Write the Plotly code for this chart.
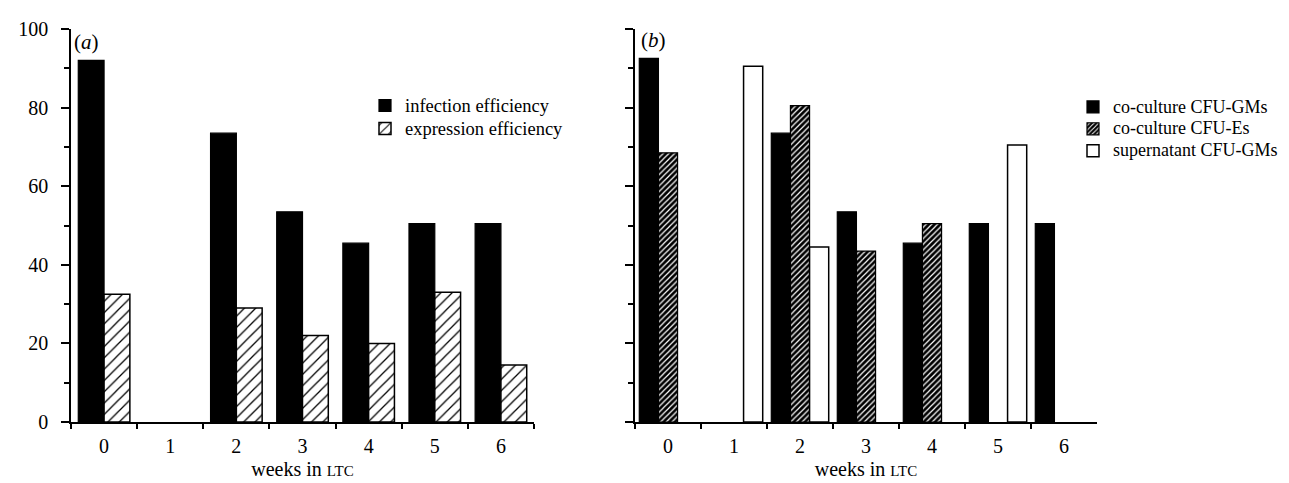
import plotly.graph_objects as go

# ---- data ----
weeks = ["0", "1", "2", "3", "4", "5", "6"]
infection_eff = [92, None, 73.5, 53.5, 45.5, 50.5, 50.5]
expression_eff = [32.5, None, 29, 22, 20, 33, 14.5]
cc_cfu_gm = [92.5, None, 73.5, 53.5, 45.5, 50.5, 50.5]
cc_cfu_e = [68.5, None, 80.5, 43.5, 50.5, None, None]
sup_cfu_gm = [None, 90.5, 44.5, None, None, 70.5, None]
y_ticks = [0, 20, 40, 60, 80, 100]
names_a = ["infection efficiency", "expression efficiency"]
names_b = ["co-culture CFU-GMs", "co-culture CFU-Es", "supernatant CFU-GMs"]

W, H = 1289, 483
FONT = "Liberation Serif"
top, bottom = 21, 414
ph = bottom - top

def px(x):
    return x / W

def py(y):
    return (bottom - y) / ph

def lbl(t, size=18):
    return "<span style='font-size:%spx'>%s</span>" % (size, t)

fig = go.Figure()

# panel (a)
fig.add_trace(go.Bar(x=weeks, y=infection_eff, name=lbl(names_a[0], 18.5),
                     xaxis="x", yaxis="y", width=0.39, offset=-0.39,
                     marker=dict(color="black", line=dict(color="black", width=1.2)),
                     legend="legend"))
fig.add_trace(go.Bar(x=weeks, y=expression_eff, name=lbl(names_a[1], 18.5),
                     xaxis="x", yaxis="y", width=0.39, offset=0.0,
                     marker=dict(color="white", line=dict(color="black", width=1.5),
                                 pattern=dict(shape="/", size=8, solidity=0.16,
                                              fgcolor="black", bgcolor="white",
                                              fillmode="replace")),
                     legend="legend"))

# panel (b)
bw = 0.29
fig.add_trace(go.Bar(x=weeks, y=cc_cfu_gm, name=lbl(names_b[0]),
                     xaxis="x2", yaxis="y2", width=bw, offset=-1.5 * bw,
                     marker=dict(color="black", line=dict(color="black", width=1.2)),
                     legend="legend2"))
fig.add_trace(go.Bar(x=weeks, y=cc_cfu_e, name=lbl(names_b[1]),
                     xaxis="x2", yaxis="y2", width=bw, offset=-0.5 * bw,
                     marker=dict(color="black", line=dict(color="black", width=1.2),
                                 pattern=dict(shape="/", size=4, solidity=0.3,
                                              fgcolor="white", bgcolor="black",
                                              fillmode="replace")),
                     legend="legend2"))
fig.add_trace(go.Bar(x=weeks, y=sup_cfu_gm, name=lbl(names_b[2]),
                     xaxis="x2", yaxis="y2", width=bw, offset=0.5 * bw,
                     marker=dict(color="white", line=dict(color="black", width=1.5)),
                     legend="legend2"))

xtitle = "weeks in <span style='font-size:15px'>LTC</span>"

common_x = dict(type="category", categoryorder="array", categoryarray=weeks,
                range=[-0.5, 6.5], tickson="boundaries", ticks="outside",
                ticklen=5, tickwidth=1.5, tickcolor="black",
                ticklabelstandoff=5,
                showline=True, linecolor="black", linewidth=1.5,
                showgrid=False, zeroline=False,
                tickfont=dict(family=FONT, size=20, color="black"),
                title=dict(text=xtitle, font=dict(family=FONT, size=20, color="black"),
                           standoff=6))
common_y = dict(range=[0, 100], tickvals=y_ticks, ticks="outside", ticklen=8,
                tickwidth=1.5, tickcolor="black", ticklabelstandoff=9,
                minor=dict(dtick=10, ticks="outside", ticklen=5, tickwidth=1.5,
                           tickcolor="black", showgrid=False),
                showline=True, linecolor="black", linewidth=1.5,
                showgrid=False, zeroline=False,
                tickfont=dict(family=FONT, size=20, color="black"))

fig.update_layout(
    width=W, height=H,
    margin=dict(l=0, r=0, t=top, b=H - bottom),
    paper_bgcolor="white", plot_bgcolor="white",
    barmode="overlay",
    font=dict(family=FONT, size=18, color="black"),
    xaxis=dict(domain=[px(63), px(526)], anchor="y", **common_x),
    yaxis=dict(domain=[0, 1], anchor="x", showticklabels=True, **common_y),
    xaxis2=dict(domain=[px(627), px(1089)], anchor="y2", **common_x),
    yaxis2=dict(domain=[0, 1], anchor="x2", showticklabels=False, **common_y),
    legend=dict(x=px(357), y=py(81), xanchor="left", yanchor="top",
                bgcolor="rgba(0,0,0,0)", font=dict(family=FONT, size=15.4, color="black"),
                tracegroupgap=0, traceorder="normal"),
    legend2=dict(x=px(1065), y=py(83), xanchor="left", yanchor="top",
                 bgcolor="rgba(0,0,0,0)", font=dict(family=FONT, size=14.5, color="black"),
                 tracegroupgap=0, traceorder="normal"),
    annotations=[
        dict(text="(<i>a</i>)", x=px(64), y=py(34), xref="paper", yref="paper",
             xanchor="left", yanchor="middle", showarrow=False,
             font=dict(family=FONT, size=21, color="black")),
        dict(text="(<i>b</i>)", x=px(631), y=py(32), xref="paper", yref="paper",
             xanchor="left", yanchor="middle", showarrow=False,
             font=dict(family=FONT, size=21, color="black")),
    ],
)

fig.write_html("out.html")
